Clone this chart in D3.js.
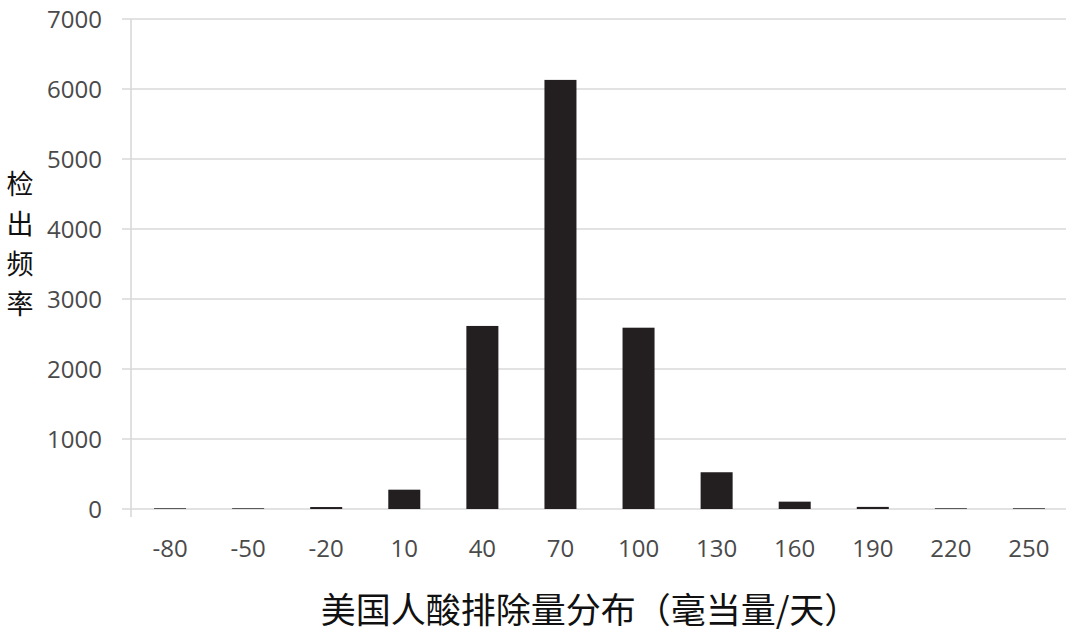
<!DOCTYPE html>
<html>
<head>
<meta charset="utf-8">
<script src="https://cdn.jsdelivr.net/npm/d3@7"></script>
<style>
  html, body { margin: 0; padding: 0; background: #fff; }
</style>
</head>
<body>
<div id="chart"></div>
<script>
'use strict'

// acid excretion bins (mEq/day) and detection counts
const categories = ['-80', '-50', '-20', '10', '40', '70', '100', '130', '160', '190', '220', '250']
const counts = [10, 10, 28, 276, 2615, 6130, 2590, 525, 105, 30, 10, 10]
const yTicks = [0, 1000, 2000, 3000, 4000, 5000, 6000, 7000]
const xTitle = '美国人酸排除量分布（毫当量/天）'
const yTitle = ['检', '出', '频', '率']

const width = 1080,
    height = 637,
    margin = { top: 19, right: 12, bottom: 128, left: 131 }

const svg = d3.select('#chart')
    .append('svg')
    .attr('width', width)
    .attr('height', height)
    .style('display', 'block')

const x = d3.scaleBand()
    .domain(categories)
    .range([margin.left, width - margin.right])
    .paddingInner(0.59)
    .paddingOuter(0.295)

const y = d3.scaleLinear()
    .domain([0, 7000])
    .range([height - margin.bottom, margin.top])

// gridlines
svg.append('g')
    .selectAll('line')
    .data(yTicks)
    .join('line')
    .attr('x1', margin.left - 9)
    .attr('x2', width - 14)
    .attr('y1', d => y(d))
    .attr('y2', d => y(d))
    .attr('stroke', '#d9d9d9')
    .attr('stroke-width', 1.6)

// vertical axis line
svg.append('line')
    .attr('x1', margin.left)
    .attr('x2', margin.left)
    .attr('y1', y(7000))
    .attr('y2', y(0) + 8)
    .attr('stroke', '#d9d9d9')
    .attr('stroke-width', 1.6)

// y tick labels
svg.append('g')
    .selectAll('text')
    .data(yTicks)
    .join('text')
    .attr('x', margin.left - 29)
    .attr('y', d => y(d))
    .attr('dy', '0.36em')
    .attr('text-anchor', 'end')
    .style('font-family', '"Open Sans", sans-serif')
    .style('font-size', '24px')
    .attr('fill', '#4a4a4a')
    .text(d => d)

// bars
svg.append('g')
    .selectAll('rect')
    .data(counts)
    .join('rect')
    .attr('x', (d, i) => x(categories[i]))
    .attr('width', x.bandwidth())
    .attr('y', d => y(d))
    .attr('height', d => y(0) - y(d))
    .attr('fill', '#231f20')

// x tick labels
svg.append('g')
    .selectAll('text')
    .data(categories)
    .join('text')
    .attr('x', d => x(d) + x.bandwidth() / 2)
    .attr('y', 557)
    .attr('text-anchor', 'middle')
    .style('font-family', '"Open Sans", sans-serif')
    .style('font-size', '24px')
    .attr('fill', '#4a4a4a')
    .text(d => d)

// x axis title
svg.append('text')
    .attr('x', 590)
    .attr('y', 623)
    .attr('text-anchor', 'middle')
    .style('font-family', '"Noto Sans CJK SC", sans-serif')
    .style('font-size', '35px')
    .attr('fill', '#111')
    .text(xTitle)

// y axis title, one character per line
svg.append('g')
    .selectAll('text')
    .data(yTitle)
    .join('text')
    .attr('x', 20)
    .attr('y', (d, i) => 194 + i * 40)
    .attr('text-anchor', 'middle')
    .style('font-family', '"Noto Sans CJK SC", sans-serif')
    .style('font-size', '27px')
    .attr('fill', '#111')
    .text(d => d)
</script>
</body>
</html>
